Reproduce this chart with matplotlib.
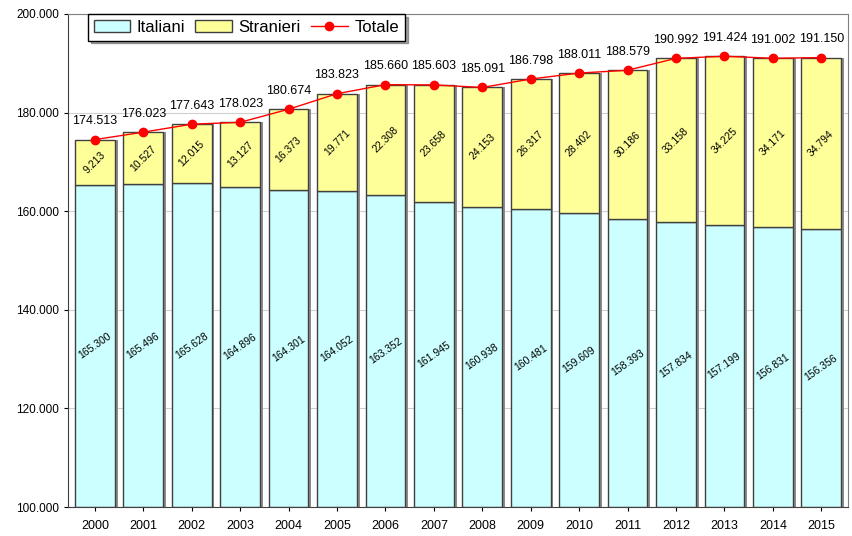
import matplotlib
matplotlib.use('Agg')
import matplotlib.pyplot as plt
import matplotlib.ticker as mticker
import numpy as np

plt.rcParams['font.family'] = ['Liberation Sans', 'DejaVu Sans']

anni = ['2000', '2001', '2002', '2003', '2004', '2005', '2006', '2007',
        '2008', '2009', '2010', '2011', '2012', '2013', '2014', '2015']
italiani = [165300, 165496, 165628, 164896, 164301, 164052, 163352, 161945,
            160938, 160481, 159609, 158393, 157834, 157199, 156831, 156356]
stranieri = [9213, 10527, 12015, 13127, 16373, 19771, 22308, 23658,
             24153, 26317, 28402, 30186, 33158, 34225, 34171, 34794]
totale = [174513, 176023, 177643, 178023, 180674, 183823, 185660, 185603,
          185091, 186798, 188011, 188579, 190992, 191424, 191002, 191150]


def fmt(v):
    return '{:,}'.format(v).replace(',', '.')


fig = plt.figure(figsize=(8.53, 5.36), dpi=100)
ax1 = fig.add_axes([0.080, 0.054, 0.914, 0.920])

x = np.arange(len(anni))
w = 0.82
ymin = 100000

# ombra delle barre
ax1.bar(x + 0.06, totale, width=w, bottom=0, color='#8c8c8c', zorder=1)
b1 = ax1.bar(x, np.array(italiani) - ymin, width=w, bottom=ymin, color='#ccffff',
             edgecolor='#404040', lw=1, zorder=2, label='Italiani')
b2 = ax1.bar(x, stranieri, width=w, bottom=italiani, color='#ffff99',
             edgecolor='#404040', lw=1, zorder=2, label='Stranieri')
l1, = ax1.plot(x, totale, color='red', lw=1, marker='o', ms=6, zorder=4, label='Totale')

for i in range(len(anni)):
    ax1.text(x[i], (ymin + italiani[i]) / 2, fmt(italiani[i]), rotation=35,
             ha='center', va='center', fontsize=7.5, zorder=5)
    ax1.text(x[i], italiani[i] + stranieri[i] / 2, fmt(stranieri[i]), rotation=45,
             ha='center', va='center', fontsize=7.5, zorder=5)
    ax1.annotate(fmt(totale[i]), (x[i], totale[i]), xytext=(0, 9),
                 textcoords='offset points', ha='center', va='bottom',
                 fontsize=9, zorder=5)

ax1.set_xlim(-0.55, len(anni) - 0.45)
ax1.set_ylim(ymin, 200000)
ax1.set_xticks(x)
ax1.set_xticklabels(anni, fontsize=9)
ax1.yaxis.set_major_locator(mticker.MultipleLocator(20000))
ax1.yaxis.set_major_formatter(mticker.FuncFormatter(lambda v, p: fmt(int(v))))
ax1.tick_params(axis='y', labelsize=8.5, length=3, direction='out')
ax1.tick_params(axis='x', length=3, direction='out', pad=6)
ax1.grid(axis='y', color='#d0d0d0', lw=0.8, zorder=0)
ax1.set_axisbelow(True)
for s in ax1.spines.values():
    s.set_color('#808080')
ax1.spines['left'].set_color('#404040')
ax1.spines['bottom'].set_color('#404040')

leg = ax1.legend([b1, b2, l1], ['Italiani', 'Stranieri', 'Totale'],
                 loc='upper left', bbox_to_anchor=(0.025, 1.0), ncol=3,
                 fontsize=12, frameon=True, fancybox=False, shadow=True,
                 handlelength=2.2, handleheight=0.7, columnspacing=0.6,
                 handletextpad=0.4, borderpad=0.35, borderaxespad=0.0)
leg.get_frame().set_edgecolor('black')
leg.get_frame().set_linewidth(1)

fig.savefig('out.png', dpi=100)
